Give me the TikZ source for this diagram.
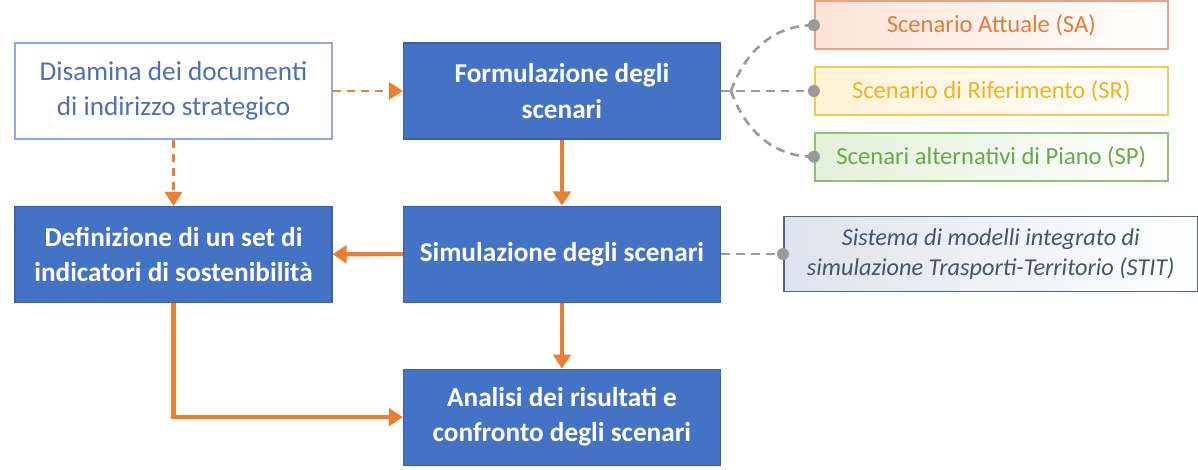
\documentclass[tikz,border=0pt]{standalone}
\usepackage{fontspec}
\setmainfont{Carlito}
\usepackage{tikz}
\usetikzlibrary{positioning, arrows.meta}
\definecolor{boxblue}{HTML}{4472C4}
\definecolor{docedge}{HTML}{8FAADC}
\definecolor{doctext}{HTML}{4F6FB5}
\definecolor{flowcol}{HTML}{ED7D31}
\definecolor{tiegray}{HTML}{9A9A9A}
\definecolor{saedge}{HTML}{E9A283}
\definecolor{satext}{HTML}{E47C3C}
\definecolor{safill}{HTML}{FBE3D6}
\definecolor{sredge}{HTML}{F5C84E}
\definecolor{srtext}{HTML}{EFB320}
\definecolor{srfill}{HTML}{FFF3D6}
\definecolor{spedge}{HTML}{8CC46E}
\definecolor{sptext}{HTML}{6AA84F}
\definecolor{spfill}{HTML}{E3F0DA}
\definecolor{stitedge}{HTML}{55657E}
\definecolor{stittext}{HTML}{44546A}
\definecolor{stitfill}{HTML}{DDE3EC}
\tikzset{
>={Triangle[length=8pt,width=10pt]}, % arrow heads of the orange connectors
node distance=1.32cm and 1.4cm, % gaps between the main boxes
every node/.style={align=center},
mainbox/.style={draw=boxblue!85!black, fill=boxblue, text=white, line width=0.6pt,
  minimum width=6.34cm, minimum height=1.92cm, font=\fontsize{15.5}{20}\selectfont\bfseries},
docbox/.style={draw=docedge, fill=white, text=doctext, line width=1pt,
  minimum width=6.34cm, minimum height=1.92cm, font=\fontsize{15.5}{20}\selectfont},
scenbox/.style={line width=1pt, right color=white, minimum width=7.06cm, minimum height=0.96cm,
  font=\fontsize{14}{16}\selectfont},
stitbox/.style={draw=stitedge, text=stittext, left color=stitfill, right color=white, line width=1pt,
  minimum width=8.28cm, minimum height=1.5cm, font=\fontsize{13.8}{17}\selectfont\itshape},
flow/.style={->, draw=flowcol, line width=2.3pt},
link/.style={->, draw=flowcol, line width=1.3pt, dash pattern=on 4.5pt off 3.5pt},
tie/.style={draw=tiegray, line width=1.5pt, dash pattern=on 5pt off 3.5pt},
}
\begin{document}
\begin{tikzpicture}
    \useasboundingbox (0,0) rectangle (23.96,-9.38);

    \node[docbox] (dis) at (3.47,-1.82) {Disamina dei documenti\\di indirizzo strategico};
    \node[mainbox, right=of dis] (form) {Formulazione degli\\scenari};
    \node[mainbox, below=of dis] (def) {Definizione di un set di\\indicatori di sostenibilità};
    \node[mainbox, below=of form] (sim) {Simulazione degli scenari};
    \node[mainbox, below=of sim] (ana) {Analisi dei risultati e\\confronto degli scenari};

    \node[scenbox, draw=sredge, text=srtext, left color=srfill, right=1.86cm of form] (sr) {Scenario di Riferimento (SR)};
    \node[scenbox, draw=saedge, text=satext, left color=safill, above=0.32cm of sr] (sa) {Scenario Attuale (SA)};
    \node[scenbox, draw=spedge, text=sptext, left color=spfill, below=0.32cm of sr] (sp) {Scenari alternativi di Piano (SP)};
    \node[stitbox, right=1.24cm of sim] (stit) {Sistema di modelli integrato di\\simulazione Trasporti-Territorio (STIT)};

    \draw[link] (dis) -- (form);
    \draw[link] (dis) -- (def);
    \draw[flow] (form) -- (sim);
    \draw[flow] (sim) -- (def);
    \draw[flow] (sim) -- (ana);
    \draw[flow] (def.south) |- (ana.west);

    \coordinate[right=0.2cm of form.east] (fork);
    \draw[tie] (form.east) -- (fork) -- (sr.west);
    \draw[tie] (fork) to[out=70,in=180] (sa.west);
    \draw[tie] (fork) to[out=-70,in=180] (sp.west);
    \draw[tie] (sim) -- (stit);
    \foreach \n in {sa,sr,sp,stit}
        \fill[tiegray] (\n.west) circle (0.12cm);
\end{tikzpicture}
\end{document}
